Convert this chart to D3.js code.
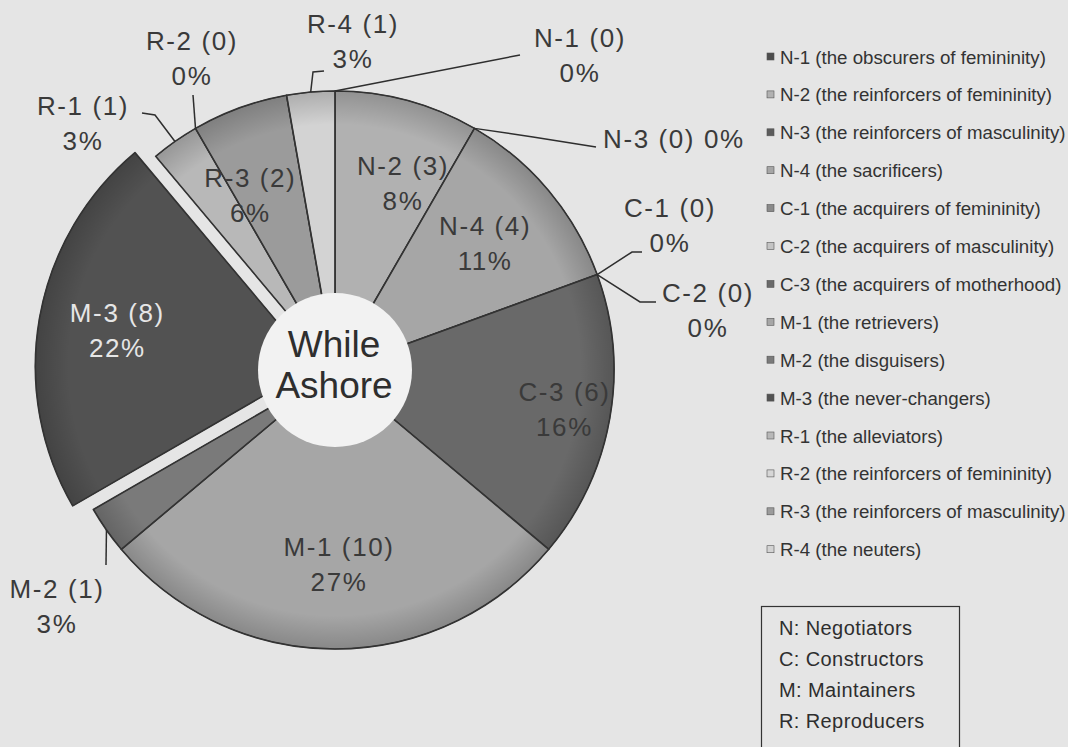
<!DOCTYPE html>
<html>
<head>
<meta charset="utf-8">
<script src="https://cdn.jsdelivr.net/npm/d3@7"></script>
<style>
  html, body { margin: 0; padding: 0; background: #e5e5e5; }
  svg { display: block; }
  text { font-family: "Liberation Sans", Arial, sans-serif; }
</style>
</head>
<body>
<svg id="chart" width="1068" height="747"></svg>
<script>
// Role types and how many participants fall in each (while ashore)
const codes = ["N-1","N-2","N-3","N-4","C-1","C-2","C-3","M-1","M-2","M-3","R-1","R-2","R-3","R-4"];
const names = [
  "the obscurers of femininity", "the reinforcers of femininity", "the reinforcers of masculinity",
  "the sacrificers", "the acquirers of femininity", "the acquirers of masculinity",
  "the acquirers of motherhood", "the retrievers", "the disguisers", "the never-changers",
  "the alleviators", "the reinforcers of femininity", "the reinforcers of masculinity", "the neuters"
];
const counts = [0, 3, 0, 4, 0, 0, 6, 10, 1, 8, 1, 0, 2, 1];
const percentLabels = ["0%","8%","0%","11%","0%","0%","16%","27%","3%","22%","3%","0%","6%","3%"];
const groupKey = ["N: Negotiators", "C: Constructors", "M: Maintainers", "R: Reproducers"];
const centreTitle = ["While", "Ashore"];

// Grey shades per role
const shades = ["#4d4d4d","#b1b1b1","#5c5c5c","#a6a6a6","#8a8a8a","#c4c4c4","#696969",
                "#a6a6a6","#7a7a7a","#525252","#b8b8b8","#d6d6d6","#9b9b9b","#d3d3d3"];

const svg = d3.select("#chart");
const cx = 335, cy = 370, R = 279, hole = 77;
const explodeCode = "M-3", explodeDist = 21;

const color = d3.scaleOrdinal().domain(codes).range(shades);
const data = codes.map((c, i) => ({ code: c, name: names[i], value: counts[i], pct: percentLabels[i] }));
const pie = d3.pie().value(d => d.value).sort(null);
const arcs = pie(data);
const arc = d3.arc().innerRadius(0).outerRadius(R);

// point on a circle of radius r at pie angle a (clockwise from 12 o'clock)
const at = (a, r) => [cx + r * Math.sin(a), cy - r * Math.cos(a)];
const mid = d => (d.startAngle + d.endAngle) / 2;
const offset = d => d.data.code === explodeCode ? at(mid(d), explodeDist).map((v, i) => v - (i ? cy : cx)) : [0, 0];

// subtle darkening towards the rim, like a bevelled pie
const defs = svg.append("defs");
const rim = defs.append("radialGradient").attr("id", "rim")
  .attr("gradientUnits", "userSpaceOnUse").attr("cx", 0).attr("cy", 0).attr("r", R);
rim.append("stop").attr("offset", "0.88").attr("stop-color", "#000").attr("stop-opacity", 0);
rim.append("stop").attr("offset", "1").attr("stop-color", "#000").attr("stop-opacity", 0.18);

const slices = svg.append("g").attr("transform", `translate(${cx},${cy})`);
const sl = slices.selectAll("g.slice").data(arcs.filter(d => d.value > 0)).join("g")
  .attr("class", "slice")
  .attr("transform", d => { const o = offset(d); return `translate(${o[0]},${o[1]})`; });
sl.append("path").attr("d", arc).attr("fill", d => color(d.data.code))
  .attr("stroke", "#444").attr("stroke-width", 1);
sl.append("path").attr("d", arc).attr("fill", "url(#rim)").attr("stroke", "#333").attr("stroke-width", 1.6)
  .attr("stroke-linejoin", "round");

// centre disc with the title
svg.append("circle").attr("cx", cx).attr("cy", cy).attr("r", hole).attr("fill", "#f2f2f2");
svg.append("g").selectAll("text").data(centreTitle).join("text")
  .attr("x", cx - 1).attr("y", (d, i) => 357 + i * 41)
  .attr("text-anchor", "middle").attr("font-size", 37).attr("fill", "#2e2e2e").text(d => d);

// label placement: inside labels sit on a ring, outside ones carry a leader line
const inside = {
  "N-2": { r: 197, dx: 17, dy: 5 },
  "N-4": { r: 196, dx: 0, dy: 0 },
  "C-3": { r: 233, dx: 0, dy: 0 },
  "M-1": { r: 195, dx: 4, dy: 0 },
  "M-3": { r: 200, dx: 0, dy: 0, light: true },
  "R-3": { r: 195, dx: -18, dy: 10 }
};
const outside = {
  "R-4": { tx: 353, ty: 33, bend: [[313, 72], [324, 71]] },
  "N-1": { tx: 580, ty: 47, bend: [[520, 55]] },
  "N-3": { tx: 603, ty: 148, single: true, anchor: "start", bend: [[533, 137], [596, 147]] },
  "C-1": { tx: 670, ty: 217, bend: [[632, 252], [642, 252]] },
  "C-2": { tx: 708, ty: 302, bend: [[640, 302], [656, 302]] },
  "M-2": { tx: 57, ty: 598, bend: [[106, 565]] },
  "R-1": { tx: 83, ty: 115, bend: [[155, 115], [142, 113]] },
  "R-2": { tx: 192, ty: 50, bend: [[193, 95]] }
};
const lineGap = 35;
const labelFont = 26, labelSpacing = 1.6;

const labels = svg.append("g").attr("fill", "#3a3a3a").attr("font-size", labelFont)
  .attr("letter-spacing", labelSpacing);

arcs.forEach(d => {
  const code = d.data.code;
  const head = `${code} (${d.data.value})`;
  if (inside[code]) {
    const p = inside[code], o = offset(d);
    const c = at(mid(d), p.r);
    const x = c[0] + p.dx + o[0], y = c[1] + p.dy + o[1];
    const t = labels.append("text").attr("text-anchor", "middle")
      .attr("fill", p.light ? "#e6e6e6" : "#3a3a3a");
    t.append("tspan").attr("x", x).attr("y", y - lineGap / 2 + 8).text(head);
    t.append("tspan").attr("x", x).attr("y", y + lineGap / 2 + 8).text(d.data.pct);
  } else if (outside[code]) {
    const p = outside[code];
    const start = at(mid(d), R);
    svg.append("polyline")
      .attr("points", [start].concat(p.bend).map(q => q.join(",")).join(" "))
      .attr("fill", "none").attr("stroke", "#2e2e2e").attr("stroke-width", 1.5);
    const t = labels.append("text").attr("text-anchor", p.anchor || "middle");
    if (p.single) {
      t.append("tspan").attr("x", p.tx).attr("y", p.ty).text(`${head} ${d.data.pct}`);
    } else {
      t.append("tspan").attr("x", p.tx).attr("y", p.ty).text(head);
      t.append("tspan").attr("x", p.tx).attr("y", p.ty + lineGap).text(d.data.pct);
    }
  }
});

// series legend
const legend = svg.append("g").attr("transform", "translate(767,57)");
const rowH = 37.9;
const item = legend.selectAll("g").data(data).join("g")
  .attr("transform", (d, i) => `translate(0,${i * rowH})`);
item.append("rect").attr("x", 0).attr("y", -4).attr("width", 7).attr("height", 7)
  .attr("fill", d => color(d.code)).attr("stroke", "#555").attr("stroke-width", 0.6);
item.append("text").attr("x", 13).attr("y", 6.5).attr("font-size", 18.7).attr("fill", "#333")
  .text(d => `${d.code} (${d.name})`);

// group key box
const key = svg.append("g");
key.append("rect").attr("x", 761.5).attr("y", 606.5).attr("width", 198).attr("height", 160)
  .attr("fill", "none").attr("stroke", "#333").attr("stroke-width", 1.2);
key.selectAll("text").data(groupKey).join("text")
  .attr("x", 779).attr("y", (d, i) => 635 + i * 31).attr("font-size", 20)
  .attr("letter-spacing", 0.4).attr("fill", "#2e2e2e").text(d => d);
</script>
</body>
</html>
